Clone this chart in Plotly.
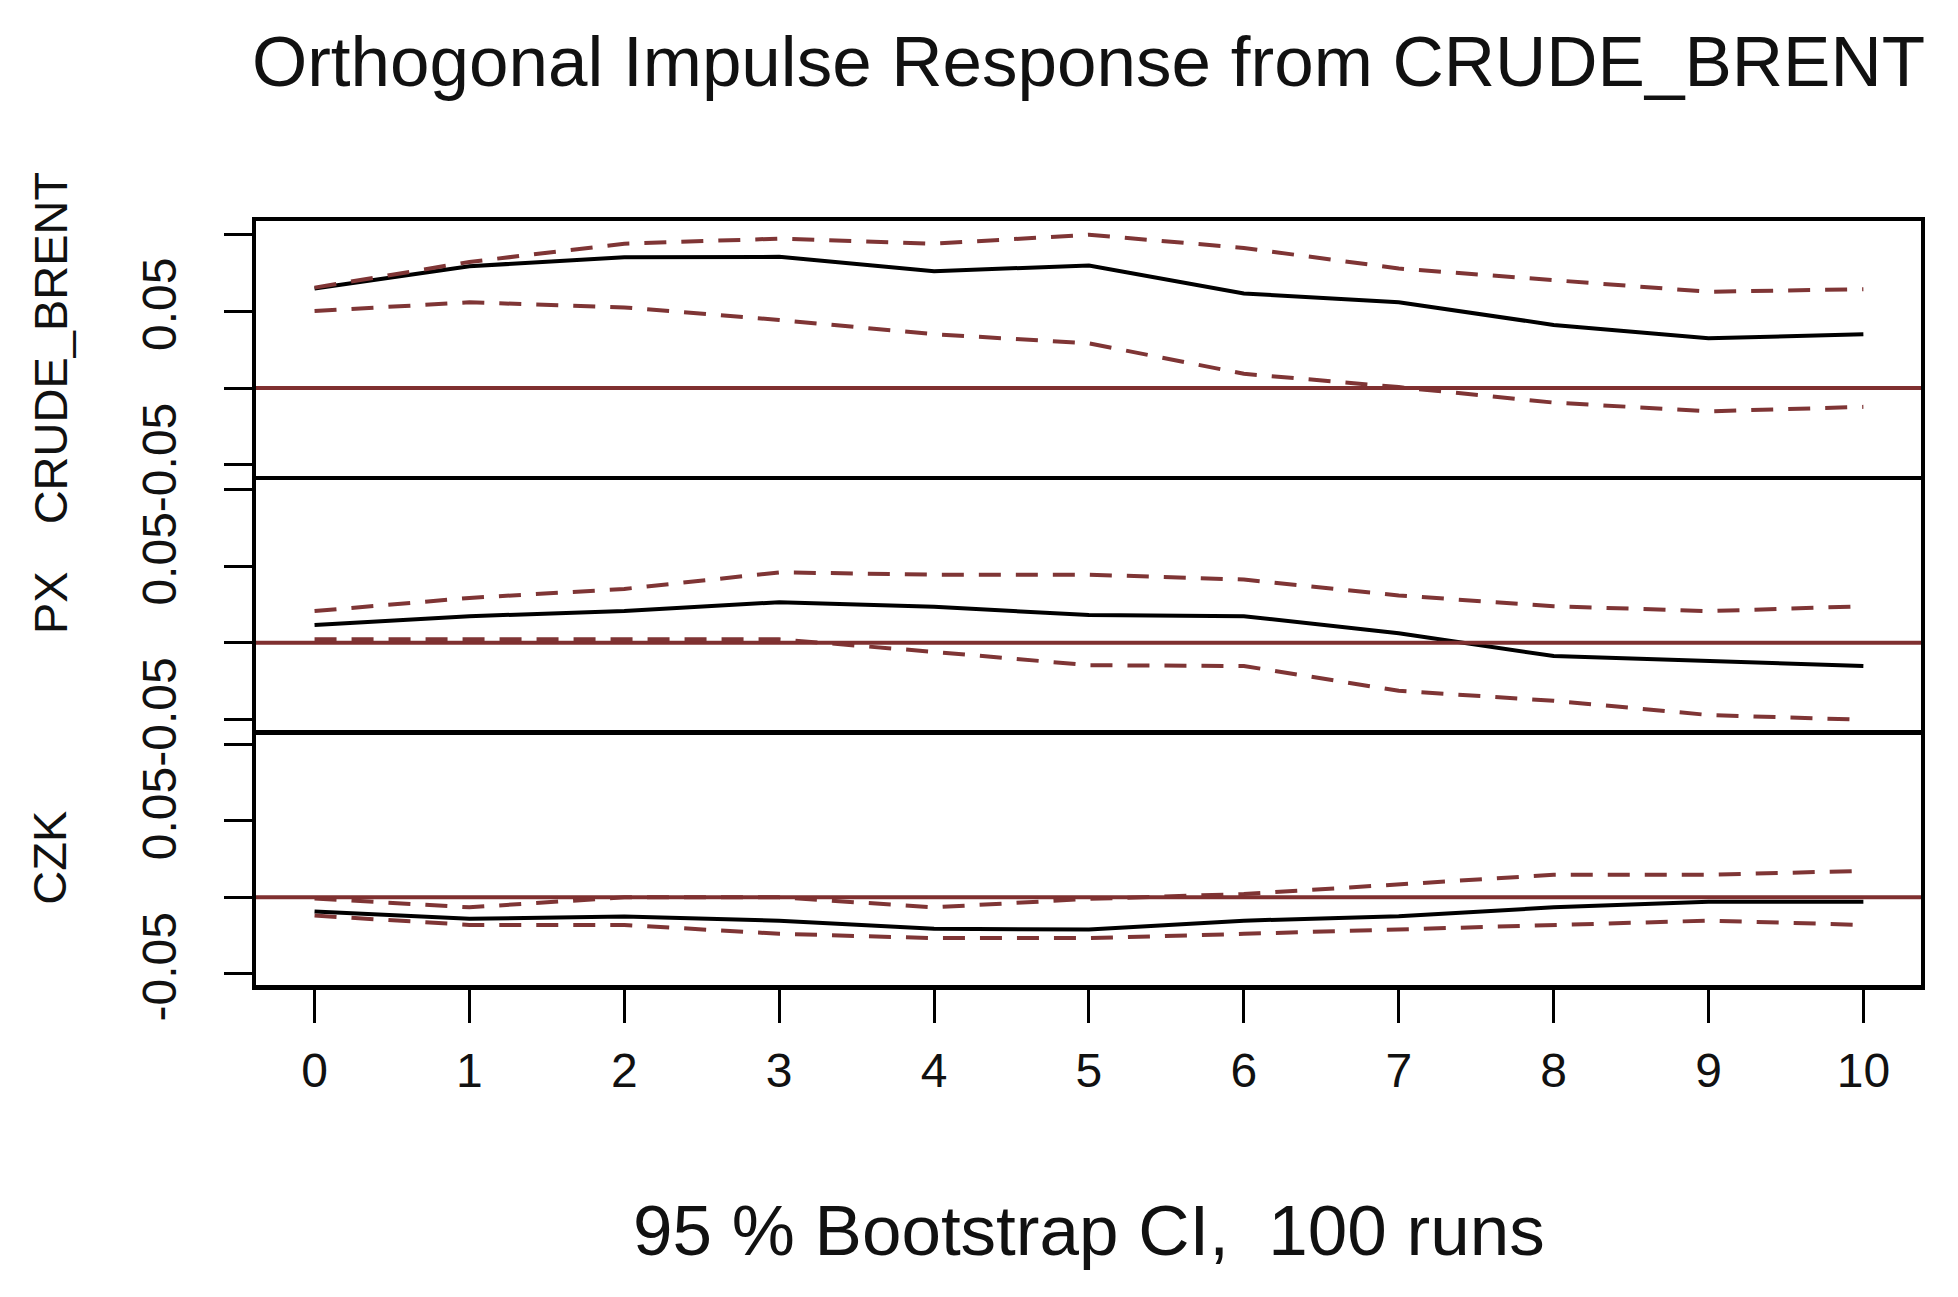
import plotly.graph_objects as go
from plotly.subplots import make_subplots

# ---------------- data ----------------
periods = [0, 1, 2, 3, 4, 5, 6, 7, 8, 9, 10]
variables = ["CRUDE_BRENT", "PX", "CZK"]

brent_irf = [0.065, 0.0795, 0.0853, 0.0856, 0.0762, 0.080, 0.0617, 0.0559, 0.0412, 0.0325, 0.0351]
brent_upper = [0.0655, 0.0823, 0.0942, 0.0975, 0.0942, 0.100, 0.0914, 0.078, 0.0704, 0.0628, 0.0645]
brent_lower = [0.0503, 0.0559, 0.0526, 0.0444, 0.0351, 0.0292, 0.0093, 0.0006, -0.0095, -0.0152, -0.0123]

px_irf = [0.0115, 0.0173, 0.0206, 0.0264, 0.0234, 0.018, 0.0173, 0.0062, -0.0087, -0.0119, -0.0152]
px_upper = [0.0206, 0.0292, 0.0351, 0.0459, 0.0444, 0.0444, 0.0412, 0.0308, 0.0238, 0.0206, 0.0238]
px_lower = [0.0022, 0.0022, 0.0022, 0.0022, -0.006, -0.0147, -0.0152, -0.0314, -0.0379, -0.0472, -0.0503]

czk_irf = [-0.0093, -0.014, -0.0125, -0.0152, -0.0205, -0.021, -0.0152, -0.0123, -0.0065, -0.0028, -0.0028]
czk_upper = [-0.0007, -0.0065, 0.0, 0.0, -0.0065, -0.001, 0.0022, 0.0087, 0.0147, 0.0147, 0.0173]
czk_lower = [-0.0119, -0.018, -0.018, -0.0238, -0.0266, -0.0266, -0.0238, -0.021, -0.018, -0.0152, -0.018]

y_tickvals = [-0.05, 0, 0.05, 0.1]
y_ticktext = ["-0.05", "", "0.05", ""]

title_text = "Orthogonal Impulse Response from CRUDE_BRENT"
xlabel_text = "95 % Bootstrap CI,\u00a0 100 runs"

series = [
    (brent_irf, brent_upper, brent_lower),
    (px_irf, px_upper, px_lower),
    (czk_irf, czk_upper, czk_lower),
]

# ---------------- style ----------------
FONT = "Arial, 'Liberation Sans', sans-serif"
TXT = "#111111"
CI_COLOR = "#7f3535"
ZERO_COLOR = "#7f3030"
W, H = 1958, 1297
ML, MR, MT, MB = 248, 45, 213, 320
PW = W - ML - MR
PH = H - MT - MB
DASH = "22px,15px"

fig = make_subplots(rows=3, cols=1, shared_xaxes=True, vertical_spacing=0)

for i, (irf, up, lo) in enumerate(series, start=1):
    fig.add_trace(go.Scatter(x=periods, y=irf, mode="lines",
                             line=dict(color="black", width=4), showlegend=False),
                  row=i, col=1)
    fig.add_trace(go.Scatter(x=periods, y=up, mode="lines",
                             line=dict(color=CI_COLOR, width=4, dash=DASH),
                             showlegend=False), row=i, col=1)
    fig.add_trace(go.Scatter(x=periods, y=lo, mode="lines",
                             line=dict(color=CI_COLOR, width=4, dash=DASH),
                             showlegend=False), row=i, col=1)
    fig.add_hline(y=0, line=dict(color=ZERO_COLOR, width=4), row=i, col=1)

    fig.update_yaxes(row=i, col=1, range=[-0.0572, 0.109],
                     tickvals=y_tickvals, ticktext=y_ticktext,
                     ticks="outside", ticklen=28, tickwidth=3, tickcolor="black",
                     tickangle=-90, ticklabelstandoff=29,
                     tickfont=dict(family=FONT, size=48, color=TXT),
                     showline=True, linecolor="black", linewidth=4, mirror=True,
                     showgrid=False, zeroline=False)
    fig.update_xaxes(row=i, col=1, range=[-0.378, 10.372],
                     showline=True, linecolor="black",
                     linewidth=4 if i == 1 else 4.5,
                     mirror=(i == 1),
                     showgrid=False, zeroline=False)

fig.update_xaxes(row=3, col=1, tickvals=periods, ticks="outside", ticklen=33,
                 tickwidth=3, tickcolor="black", showticklabels=True,
                 ticklabelstandoff=7,
                 tickfont=dict(family=FONT, size=48, color=TXT))
fig.update_xaxes(row=1, col=1, showticklabels=False, ticks="")
fig.update_xaxes(row=2, col=1, showticklabels=False, ticks="")

annotations = [
    dict(text=title_text, xref="paper", yref="paper", x=0.5,
         y=1 + (MT - 53) / PH, xanchor="center", yanchor="middle",
         showarrow=False, font=dict(family=FONT, size=71, color=TXT)),
    dict(text=xlabel_text, xref="paper", yref="paper", x=0.5,
         y=-(1222 - (H - MB)) / PH, xanchor="center", yanchor="middle",
         showarrow=False, font=dict(family=FONT, size=71, color=TXT)),
]
centers = [5 / 6, 0.5, 1 / 6]
for name, yc in zip(variables, centers):
    annotations.append(dict(text=name, xref="paper", yref="paper",
                            x=(42 - ML) / PW, y=yc, textangle=-90,
                            xanchor="center", yanchor="middle", showarrow=False,
                            font=dict(family=FONT, size=47, color=TXT)))

fig.update_layout(width=W, height=H,
                  margin=dict(l=ML, r=MR, t=MT, b=MB),
                  paper_bgcolor="white", plot_bgcolor="rgba(0,0,0,0)",
                  annotations=annotations, showlegend=False)

fig.write_html("out.html")
